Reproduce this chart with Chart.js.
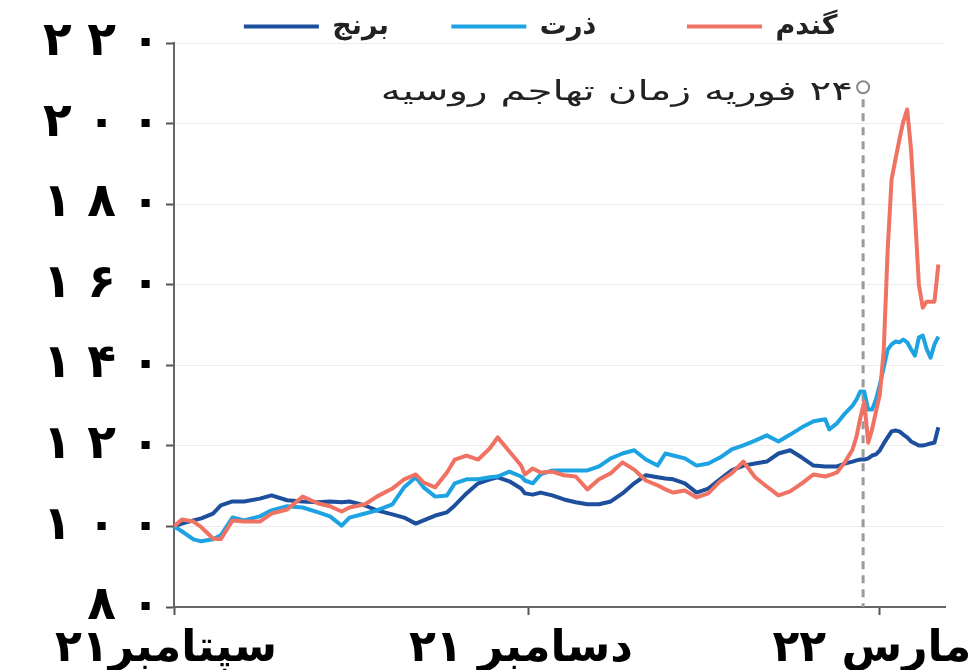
<!DOCTYPE html>
<html>
<head>
<meta charset="utf-8">
<script src="https://cdn.jsdelivr.net/npm/chart.js@4.4.1/dist/chart.umd.min.js"></script>
<style>
    html, body { margin: 0; padding: 0; background: #fff; }
    #wrap { width: 971px; height: 670px; }
</style>
</head>
<body>
<div id="wrap"><canvas id="myChart"></canvas></div>
<script>
// x = days since 1 Sep 2021, y = price index (1 Sep 2021 = 100)
const days = [0,2,5,7,10,12,15,18,22,25, 29,33,37,40,43,45,49,52,56,59,
    62,64,67,70,72,75,78,81,83,86, 89,90,92,94,97,100,103,106,109,112,
    115,118,121,124,126,128,131,134,137,140, 143,146,149,152,155,158,161,164,167,168,
    170,172,174,175,176,177,178,179,180,181, 182,183,184,185,186,187,188,189,190,191,192,193,194,195,196];

const rice = [100.0,100.7,101.5,102.0,103.2,105.2,106.2,106.2,106.9,107.7,
    106.5,106.2,106.0,106.2,106.0,106.2,105.2,104.0,103.0,102.2,
    100.7,101.5,102.7,103.5,105.2,108.2,110.7,111.7,112.2,111.2,
    109.4,108.2,107.9,108.4,107.7,106.7,106.0,105.5,105.5,106.2,
    108.2,110.7,112.7,112.2,111.9,111.7,110.7,108.4,109.4,111.7,
    113.9,115.1,115.6,116.1,118.1,118.9,117.1,115.1,114.9,114.9,
    114.9,115.6,116.1,116.4,116.6,116.6,116.9,117.6,117.9,118.9,
    120.6,122.1,123.6,123.8,123.6,122.8,122.1,121.1,120.6,120.1,120.1,120.3,120.6,120.8,124.6];

const corn = [100.0,98.8,96.8,96.3,96.8,97.8,102.2,101.5,102.5,104.0,
    105.0,104.7,103.5,102.5,100.2,102.2,103.2,104.0,105.5,109.7,
    112.2,109.7,107.4,107.7,110.7,111.7,111.7,112.2,112.4,113.6,
    112.4,111.4,110.7,112.9,113.9,113.9,113.9,113.9,114.9,116.9,
    118.1,118.9,116.6,115.1,118.1,117.6,116.9,115.1,115.6,117.1,
    119.1,120.1,121.3,122.6,121.1,122.8,124.6,126.1,126.6,124.1,
    125.6,128.0,130.0,131.5,133.5,133.5,129.0,129.0,131.5,135.2,
    139.5,143.9,145.2,145.9,145.7,146.4,145.7,144.0,142.4,146.9,147.4,144.0,141.9,145.2,147.1];

const wheat = [100.0,101.7,101.2,99.8,97.0,96.8,101.5,101.2,101.2,103.2,
    104.2,107.4,105.7,105.0,103.7,104.7,105.5,107.4,109.4,111.7,
    112.9,110.9,109.7,113.4,116.6,117.6,116.6,119.4,122.1,118.6,
    115.1,112.9,114.4,113.4,113.6,112.7,112.4,109.2,111.7,113.2,
    115.9,114.1,111.4,110.2,109.2,108.4,108.9,107.2,108.2,111.2,
    113.2,116.1,112.2,109.9,107.7,108.7,110.7,112.9,112.4,112.7,
    113.4,115.9,119.1,122.3,127.0,131.0,120.8,124.1,128.5,132.8,
    143.9,168.7,186.1,191.1,196.0,200.5,203.5,193.5,177.4,160.0,154.3,155.8,155.8,155.8,165.0];

const xTickDays = [0, 91, 181];
const xTickLabels = ['سپتامبر۲۱', 'دسامبر ۲۱', 'مارس ۲۲'];
const invasionDay = 176.7;
const invasionLabel = '۲۴ فوریه زمان تهاجم روسیه';

const faDigits = '۰۱۲۳۴۵۶۷۸۹';
function toFa(n) {
    // wide gaps between digits, like the original typeface
    return String(n).split('').map(d => faDigits[d]).join('\u2004');
}
function points(ys) {
    return days.map((d, i) => ({x: d, y: ys[i]}));
}

// dashed vertical line + circle + caption for the invasion date
const invasionMarker = {
    id: 'invasionMarker',
    beforeDatasetsDraw(chart) {
        const {ctx, chartArea, scales} = chart;
        const x = scales.x.getPixelForValue(invasionDay);
        const cy = scales.y.getPixelForValue(209);
        ctx.save();
        ctx.strokeStyle = '#9a9a9a';
        ctx.lineWidth = 3;
        ctx.setLineDash([8, 6]);
        ctx.beginPath();
        ctx.moveTo(x, cy + 12);
        ctx.lineTo(x, chartArea.bottom);
        ctx.stroke();
        ctx.setLineDash([]);
        ctx.lineWidth = 2;
        ctx.strokeStyle = '#8a8a8a';
        ctx.beginPath();
        ctx.arc(x, cy, 6, 0, Math.PI * 2);
        ctx.stroke();
        // caption: stretched sideways, the source font is wide
        ctx.translate(x - 10, cy + 6);
        ctx.scale(1.5, 1);
        ctx.fillStyle = '#222';
        ctx.font = '27px "DejaVu Sans"';
        ctx.direction = 'rtl';
        ctx.textAlign = 'right';
        ctx.textBaseline = 'middle';
        ctx.fillText(invasionLabel, 0, 0);
        ctx.restore();
    }
};

// keep legend from pushing the plot down
const legendHeight = {
    id: 'legendHeight',
    beforeInit(chart) {
        const fit = chart.legend.fit;
        chart.legend.fit = function() {
            fit.bind(chart.legend)();
            this.height = 36;
        };
    }
};

const gaps = ['      ', '         ', '    ']; // spacing after each legend entry

const ctx = document.getElementById('myChart');
new Chart(ctx, {
    type: 'line',
    data: {
        datasets: [
            {label: 'برنج', data: points(rice), borderColor: '#1d4f9c', backgroundColor: '#1d4f9c', order: 2},
            {label: 'ذرت', data: points(corn), borderColor: '#1ea3e2', backgroundColor: '#1ea3e2', order: 1},
            {label: 'گندم', data: points(wheat), borderColor: '#f07262', backgroundColor: '#f07262', order: 0},
        ]
    },
    options: {
        responsive: true,
        maintainAspectRatio: false,
        animation: false,
        elements: {
            line: {borderWidth: 4, tension: 0, borderJoinStyle: 'round'},
            point: {radius: 0}
        },
        layout: {padding: {top: 7, right: 26, left: 0, bottom: 0}},
        scales: {
            x: {
                type: 'linear',
                min: 0,
                max: 197.7,
                afterBuildTicks: s => { s.ticks = xTickDays.map(v => ({value: v})); },
                afterFit: s => { s.height = 63; s.paddingLeft = 0; s.paddingRight = 0; },
                ticks: {
                    autoSkip: false,
                    maxRotation: 0,
                    padding: 8,
                    labelOffset: -8,
                    color: '#000',
                    font: {family: 'DejaVu Sans', size: 44, weight: 'bold'},
                    callback: v => xTickLabels[xTickDays.indexOf(v)]
                },
                grid: {drawOnChartArea: false, tickLength: 8, tickColor: '#555', tickWidth: 2},
                border: {color: '#666', width: 2}
            },
            y: {
                min: 80,
                max: 220,
                afterFit: s => { s.width = 174; s.paddingTop = 0; s.paddingBottom = 0; },
                ticks: {
                    stepSize: 20,
                    padding: 6,
                    color: '#000',
                    font: {family: 'DejaVu Sans', size: 47, weight: 'bold'},
                    callback: v => toFa(v)
                },
                grid: {color: '#ececec', tickLength: 8, tickColor: '#555', tickWidth: 2},
                border: {color: '#666', width: 2}
            }
        },
        plugins: {
            legend: {
                position: 'top',
                fullSize: false,
                labels: {
                    usePointStyle: true,
                    pointStyle: 'line',
                    pointStyleWidth: 75,
                    padding: 6,
                    color: '#222',
                    font: {family: 'DejaVu Sans', size: 27, weight: 'bold'},
                    generateLabels: chart => {
                        const items = Chart.defaults.plugins.legend.labels.generateLabels(chart);
                        items.forEach(it => {
                            it.text += gaps[it.datasetIndex];
                            it.lineWidth = 4;
                        });
                        return items;
                    },
                    sort: (a, b) => a.datasetIndex - b.datasetIndex
                }
            },
            tooltip: {enabled: false}
        }
    },
    plugins: [invasionMarker, legendHeight]
});
</script>
</body>
</html>
